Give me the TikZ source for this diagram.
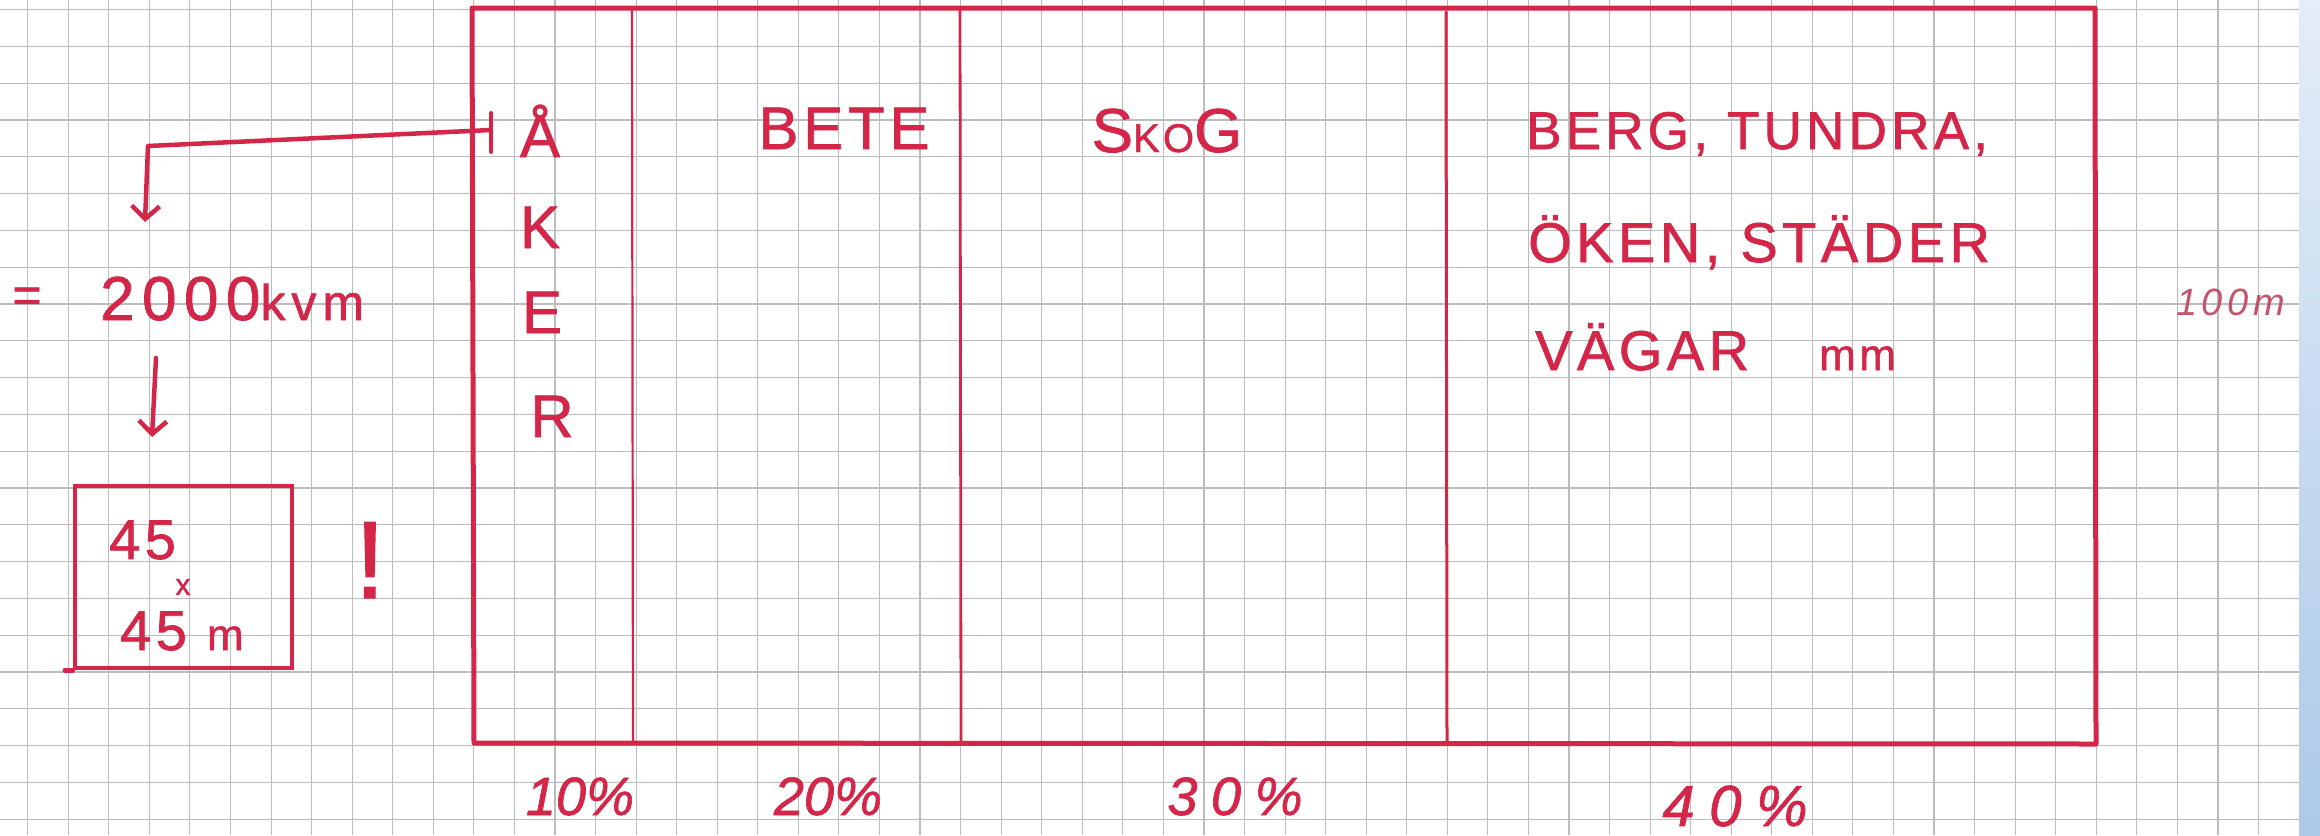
\documentclass[tikz,border=0pt]{standalone}
\usepackage{fontspec}
\setmainfont{Liberation Sans}
\usetikzlibrary{arrows.meta}
\definecolor{pen}{RGB}{212,38,72}
\definecolor{pale}{RGB}{196,84,108}
\definecolor{gridc}{RGB}{188,188,188}
\definecolor{bandtop}{RGB}{228,237,248}
\definecolor{bandbot}{RGB}{172,202,232}
\begin{document}
\begin{tikzpicture}[x=1pt,y=-1pt,
  hand/.style={text=pen, inner sep=0pt, font=\fontsize{#1}{#1}\selectfont\addfontfeature{LetterSpace=8,FakeBold=1.2}},
  penline/.style={draw=pen, line width=#1, line cap=round, line join=round},
  penarrow/.style={penline=4.5pt, -{Straight Barb[length=13pt,width=28pt,line width=4.5pt]}}]
\useasboundingbox (0,0) rectangle (2320,835);
\fill[white] (0,0) rectangle (2320,835);
% grid paper
\foreach \i in {0,...,56} \draw[gridc, line width=1.1pt] ({27.7+40.56*\i},0) -- ({27.7+40.56*\i},835);
\foreach \j in {0,...,22} \draw[gridc, line width=1.1pt] (0,{9.6+36.8*\j}) -- (2299,{9.6+36.8*\j});
% blue band
\shade[top color=bandtop, bottom color=bandbot] (2299,0) rectangle (2320,835);
% main field
\draw[penline=5pt] (472,8) -- (2095,8) -- (2096,744) -- (474,743) -- cycle;
\draw[penline=2.2pt] (632,10) -- (633,742);
\draw[penline=2.8pt] (960,10) -- (961,742);
\draw[penline=3pt] (1446,12) -- (1447,742);
% column texts
\node[hand=60, anchor=base] (A1) at (540,157) {Å};
\node[hand=60, anchor=base] (A2) at (540,248) {K};
\node[hand=60, anchor=base] (A3) at (542,333) {E};
\node[hand=60, anchor=base] (A4) at (552,437) {R};
\node[hand=60, anchor=base] (bete) at (844,149) {BETE};
\node[hand=62, anchor=base] (skog) at (1167,152) {S{\fontsize{40}{40}\selectfont KO}G};
\node[hand=53, anchor=base west] (berg) at (1526,149) {BERG, TUNDRA,};
\node[hand=56, anchor=base west] (oken) at (1528,262) {ÖKEN, STÄDER};
\node[hand=56, anchor=base west] (vagar) at (1535,370) {VÄGAR\hspace{70pt}{\fontsize{44}{44}\selectfont mm}};
\node[text=pale, inner sep=0pt, anchor=base west, font=\fontsize{38}{38}\selectfont\itshape\addfontfeature{LetterSpace=12}] (hm) at (2176,315) {100m};
% percentages
\node[hand=54, anchor=base, font=\fontsize{54}{54}\selectfont\itshape\addfontfeature{FakeBold=1.2}] (p1) at (580,815) {10\%};
\node[hand=54, anchor=base, font=\fontsize{54}{54}\selectfont\itshape\addfontfeature{FakeBold=1.2}] (p2) at (828,815) {20\%};
\node[hand=54, anchor=base, font=\fontsize{54}{54}\selectfont\itshape\addfontfeature{LetterSpace=25,FakeBold=1.2}] (p3) at (1235,815) {30\%};
\node[hand=58, anchor=base, font=\fontsize{58}{58}\selectfont\itshape\addfontfeature{LetterSpace=25,FakeBold=1.2}] (p4) at (1735,826) {40\%};
% left side calculation
\coordinate (tickT) at (491,113);
\coordinate (tickB) at (491,152);
\coordinate (c0) at (491,130);
\coordinate (bend) at (148,146);
\coordinate (a1) at (145,222);
\draw[penline=4pt] (tickT) -- (tickB);
\draw[penarrow] (c0) -- (bend) -- (a1);
\node[hand=50, anchor=center] (eq) at (27,300) {=};
\node[hand=62, anchor=base west, font=\fontsize{62}{62}\selectfont\addfontfeature{LetterSpace=12,FakeBold=1.2}] (kvm) at (100,320) {2000{\fontsize{50}{50}\selectfont kvm}};
\coordinate (a2s) at (156,358);
\coordinate (a2e) at (152,437);
\draw[penarrow] (a2s) -- (a2e);
\node[draw=pen, line width=4.5pt, minimum width=217pt, minimum height=182pt, inner sep=0pt] (box) at (183.5,577) {};
\draw[penline=4.5pt] (box.south west) -- ++(-8,0);
\node[hand=56, anchor=base west] (n1) at (109,559) {45};
\node[hand=30, anchor=center] (times) at (183,587) {x};
\node[hand=56, anchor=base west] (n2) at (120,650) {45 {\fontsize{44}{44}\selectfont m}};
\node[hand=110, anchor=base] (bang) at (370,598) {!};
\end{tikzpicture}
\end{document}
